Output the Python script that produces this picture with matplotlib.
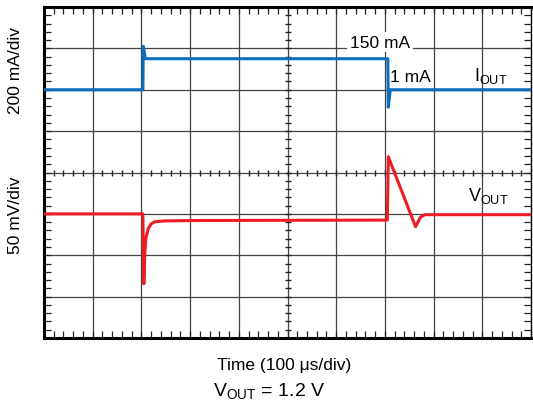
import numpy as np
import matplotlib
matplotlib.use("Agg")
import matplotlib.pyplot as plt

plt.rcParams["font.family"] = ["Liberation Sans", "DejaVu Sans"]
plt.rcParams["mathtext.fontset"] = "custom"
plt.rcParams["mathtext.rm"] = "Liberation Sans"

# scope traces, in screen divisions (x: 0..10, y: 0..8 from the bottom)
iout_t = [0.0, 2.03, 2.04, 2.08, 7.06, 7.07, 7.11, 10.0]
iout_v = [6.0, 6.0, 7.05, 6.75, 6.75, 5.58, 6.0, 6.0]

vout_t = [0.0, 2.03, 2.05, 2.07, 2.09, 2.14, 2.20, 2.28, 2.48, 3.20, 7.04,
          7.05, 7.07, 7.63, 7.73, 7.82, 10.0]
vout_v = [3.0, 3.0, 1.31, 2.03, 2.40, 2.64, 2.76, 2.81, 2.83, 2.84, 2.85,
          2.85, 4.38, 2.69, 2.92, 2.98, 2.98]

BLUE = "#0a6ebd"
RED = "#ee1c25"
GRID = "#444444"

fig = plt.figure(figsize=(5.33, 4.10), dpi=100)
ax = fig.add_axes([44 / 533, 1 - 339 / 410, 487 / 533, 331 / 410])
ax.set_xlim(0, 10)
ax.set_ylim(0, 8)

# graticule
for x in range(1, 10):
    ax.axvline(x, color=GRID, lw=0.9, zorder=1)
for y in range(1, 8):
    ax.axhline(y, color=GRID, lw=0.9, zorder=1)

# minor marks on the centre axes
mx = np.arange(0, 10.001, 0.2)
my = np.arange(0, 8.001, 0.2)
ax.plot(mx, np.full_like(mx, 4.0), ls="none", marker="|", ms=4.5, mew=1.0,
        color="#222222", zorder=1)
ax.plot(np.full_like(my, 5.0), my, ls="none", marker="_", ms=4.5, mew=1.0,
        color="#222222", zorder=1)

# border ticks
ax.set_xticks(np.arange(0, 11, 1))
ax.set_yticks(np.arange(0, 9, 1))
ax.set_xticks(mx, minor=True)
ax.set_yticks(my, minor=True)
ax.tick_params(which="both", direction="in", length=5, width=0.9,
               color="#222222", top=True, right=True,
               labelbottom=False, labelleft=False)
for s in ax.spines.values():
    s.set_linewidth(2.2)
ax.spines["right"].set_linewidth(1.0)

ax.plot(iout_t, iout_v, color=BLUE, lw=2.2, zorder=3)
ax.plot(vout_t, vout_v, color=RED, lw=2.2, zorder=3)

ax.text(6.9, 7.15, "150 mA", fontsize=12.5, ha="center", va="center",
        bbox=dict(boxstyle="square,pad=0.15", fc="white", ec="none"), zorder=4)
ax.text(7.1, 6.31, "1 mA", fontsize=12.5, ha="left", va="center", zorder=4)
ax.text(9.18, 6.36, r"I$_\mathregular{OUT}$", fontsize=13, ha="center",
        va="center", zorder=4)
ax.text(9.12, 3.45, r"V$_\mathregular{OUT}$", fontsize=13, ha="center",
        va="center", zorder=4)

fig.text(16 / 533, 1 - 70 / 410, "200 mA/div", rotation=90, fontsize=12.5,
         ha="center", va="center")
fig.text(16 / 533, 1 - 215 / 410, "50 mV/div", rotation=90, fontsize=12.5,
         ha="center", va="center")
fig.text(284 / 533, 1 - 366 / 410, "Time (100 \u03bcs/div)", fontsize=12.5,
         ha="center", va="center")
fig.text(269 / 533, 1 - 392 / 410, r"V$_\mathregular{OUT}$ = 1.2 V",
         fontsize=14, ha="center", va="center")

fig.savefig("out.png", dpi=100)
